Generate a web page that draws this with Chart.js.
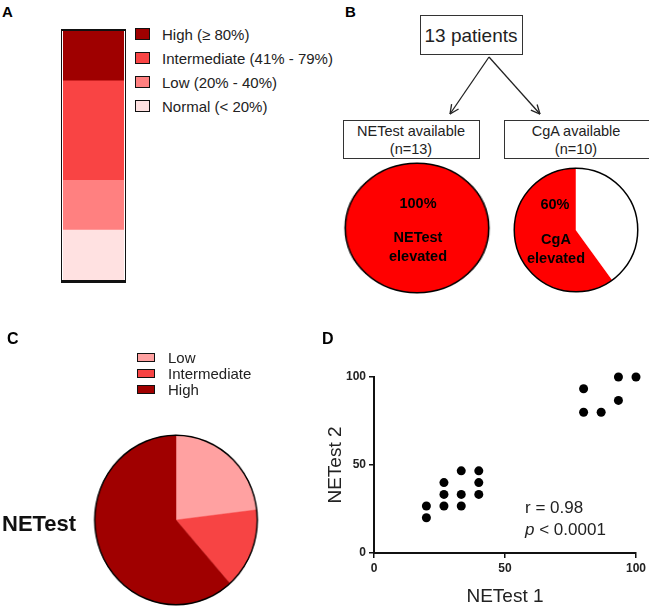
<!DOCTYPE html>
<html>
<head>
<meta charset="utf-8">
<script src="https://cdn.jsdelivr.net/npm/chart.js@4.4.1/dist/chart.umd.min.js"></script>
<style>
  html, body { margin: 0; padding: 0; background: #fff; }
  #fig { position: relative; width: 649px; height: 606px; overflow: hidden;
         font-family: "Liberation Sans", Arial, sans-serif; color: #222; }
  canvas { position: absolute; }
  .t  { position: absolute; line-height: 1; white-space: nowrap; transform: translate(-50%, -50%); }
  .tl { position: absolute; line-height: 1; white-space: nowrap; transform: translateY(-50%); }
  .panel { font-weight: bold; font-size: 16px; color: #000; }
  .box { position: absolute; box-sizing: border-box; border: 1.5px solid #333; background: #fff; }
  .pieTxt { font-weight: bold; font-size: 14.5px; color: #000; }
  .swatch { position: absolute; box-sizing: border-box; border: 1.5px solid #111; }
</style>
</head>
<body>
<div id="fig">
  <!-- A -->
  <div class="tl panel" style="left:2px; top:11px; font-size:15px;">A</div>
  <canvas id="bandBar" width="61" height="249" style="left:63px; top:31px;"></canvas>
  <div style="position:absolute; left:61px; top:29px; width:65px; height:254px; box-sizing:border-box;
              border:2px solid #111; border-left-width:1.5px; border-right-width:1.5px; border-bottom-width:3px;"></div>
  <div id="bandLegend"></div>

  <!-- B -->
  <div class="tl panel" style="left:345px; top:11px; font-size:15px;">B</div>
  <div class="box" style="left:420px; top:15px; width:103px; height:40px;"></div>
  <div class="t" style="left:471px; top:35px; font-size:19px; color:#222;">13 patients</div>
  <svg width="649" height="606" style="position:absolute; left:0; top:0;">
    <defs>
      <marker id="head" viewBox="0 0 10 10" refX="9.5" refY="5" markerUnits="userSpaceOnUse"
              markerWidth="10" markerHeight="10" orient="auto">
        <path d="M0.5,0.8 L9.5,5 L0.5,9.2" fill="none" stroke="#222" stroke-width="1.3"/>
      </marker>
    </defs>
    <line x1="489" y1="57" x2="450" y2="114" stroke="#222" stroke-width="1.3" marker-end="url(#head)"/>
    <line x1="489" y1="57" x2="540" y2="114" stroke="#222" stroke-width="1.3" marker-end="url(#head)"/>
  </svg>
  <div class="box" style="left:343px; top:120px; width:137px; height:39px;"></div>
  <div class="t" style="left:411px; top:131px; font-size:14.5px;">NETest available</div>
  <div class="t" style="left:411px; top:149px; font-size:14.5px;">(n=13)</div>
  <div class="box" style="left:504px; top:120px; width:145px; height:39px; border-right:none;"></div>
  <div class="t" style="left:576px; top:131px; font-size:14.5px;">CgA available</div>
  <div class="t" style="left:576px; top:149px; font-size:14.5px;">(n=10)</div>

  <canvas id="pieNetest" width="134" height="134" style="left:350px; top:161px; transform:scaleX(1.108);"></canvas>
  <div class="t pieTxt" style="left:418px; top:203px;">100%</div>
  <div class="t pieTxt" style="left:418px; top:237px;">NETest</div>
  <div class="t pieTxt" style="left:418px; top:256px;">elevated</div>

  <canvas id="pieCga" width="128" height="128" style="left:512px; top:166px;"></canvas>
  <div class="t pieTxt" style="left:555px; top:204px;">60%</div>
  <div class="t pieTxt" style="left:556px; top:239px;">CgA</div>
  <div class="t pieTxt" style="left:556px; top:258px;">elevated</div>

  <!-- C -->
  <div class="tl panel" style="left:7px; top:339px;">C</div>
  <div id="levelLegend"></div>
  <div class="tl" style="left:2px; top:524px; font-size:22px; font-weight:bold; color:#111;">NETest</div>
  <canvas id="pieLevels" width="174" height="174" style="left:89px; top:433px; transform:scaleX(0.959);"></canvas>

  <!-- D -->
  <div class="tl panel" style="left:322px; top:339px;">D</div>
  <canvas id="scatter" width="324" height="246" style="left:325px; top:360px;"></canvas>
  <div class="tl" style="left:525px; top:507px; font-size:17px;">r = 0.98</div>
  <div class="tl" style="left:525px; top:529px; font-size:17px;"><i>p</i> &lt; 0.0001</div>
</div>

<script>
// A: NETest score bands, bottom to top
const bandNames = ['Normal (< 20%)', 'Low (20% - 40%)', 'Intermediate (41% - 79%)', 'High (≥ 80%)'];
const bandSpans = [20, 20, 40, 20];
const bandColors = ['#ffe1e1', '#ff8080', '#f94444', '#9f0000'];

// B: patients with elevated marker
const elevGroups = ['Elevated', 'Not elevated'];
const netestElev = [13, 0];
const cgaElev = [6, 4];
const elevColors = ['#ff0000', '#ffffff'];

// C: NETest level split
const levelNames = ['Low', 'Intermediate', 'High'];
const levelCounts = [3, 2, 8];
const levelColors = ['#ffa1a1', '#f74444', '#a00000'];

// D: NETest 1 vs NETest 2
const netest1 = [20, 20, 26.7, 26.7, 26.7, 33.3, 33.3, 33.3, 40, 40, 40, 80, 80, 86.7, 93.3, 93.3, 100];
const netest2 = [26.7, 20, 40, 33.3, 26.7, 46.7, 33.3, 26.7, 46.7, 40, 33.3, 93.3, 80, 80, 100, 86.7, 100];

const FONT = '"Liberation Sans", Arial, sans-serif';
Chart.defaults.font.family = FONT;
Chart.defaults.color = '#222';

const noPlugins = { legend: { display: false }, tooltip: { enabled: false } };

// html legends
function legend(el, names, colors, x0, y0, step, bw, bh, textX) {
  let html = '';
  names.forEach((n, i) => {
    const cy = y0 + i * step;
    html += `<div class="swatch" style="left:${x0}px; top:${cy - bh / 2}px; width:${bw}px; height:${bh}px; background:${colors[i]};"></div>`;
    html += `<div class="tl" style="left:${textX}px; top:${cy}px; font-size:15px;">${n}</div>`;
  });
  document.getElementById(el).innerHTML = html;
}
legend('bandLegend', bandNames.slice().reverse(), bandColors.slice().reverse(), 135, 34, 24, 15, 12, 162);
legend('levelLegend', levelNames, levelColors, 137, 357, 16, 18, 9, 168);

// panel A bar
new Chart(document.getElementById('bandBar'), {
  type: 'bar',
  data: {
    labels: ['NETest'],
    datasets: bandNames.map((n, i) => ({
      label: n, data: [bandSpans[i]], backgroundColor: bandColors[i],
      borderWidth: 0, barPercentage: 1, categoryPercentage: 1
    }))
  },
  options: {
    responsive: false, animation: false,
    layout: { padding: 0 },
    scales: {
      x: { stacked: true, display: false },
      y: { stacked: true, display: false, min: 0, max: 100 }
    },
    plugins: noPlugins
  }
});

// black outline round each pie
const ring = {
  id: 'ring',
  afterDatasetsDraw(chart) {
    const arc = chart.getDatasetMeta(0).data[0];
    const ctx = chart.ctx;
    ctx.save();
    ctx.beginPath();
    ctx.arc(arc.x, arc.y, arc.outerRadius, 0, Math.PI * 2);
    ctx.lineWidth = 1.5;
    ctx.strokeStyle = '#000';
    ctx.stroke();
    ctx.restore();
  }
};

function pie(id, labels, counts, colors, rotation) {
  new Chart(document.getElementById(id), {
    type: 'pie',
    data: { labels, datasets: [{ data: counts, backgroundColor: colors, borderColor: colors, borderWidth: 0.5 }] },
    options: {
      responsive: false, animation: false, rotation,
      layout: { padding: 2 },
      plugins: noPlugins
    },
    plugins: [ring]
  });
}

pie('pieNetest', elevGroups, netestElev, elevColors, 0);
// elevated slice ends at 12 o'clock
pie('pieCga', elevGroups, cgaElev, elevColors, 360 * cgaElev[1] / (cgaElev[0] + cgaElev[1]));
pie('pieLevels', levelNames, levelCounts, levelColors, 0);

// panel D scatter
function axis(title, fit) {
  return {
    min: 0, max: 100,
    afterFit: fit,
    ticks: { stepSize: 50, color: '#222', font: { size: 12, weight: 'bold' }, padding: 3, maxRotation: 0 },
    grid: { drawOnChartArea: false, color: '#111', lineWidth: 1.5, tickLength: 5 },
    border: { color: '#111', width: 2 },
    title: { display: true, text: title, color: '#222', font: { size: 19, lineHeight: 1 }, padding: { top: 1, bottom: 0 } }
  };
}

new Chart(document.getElementById('scatter'), {
  type: 'scatter',
  data: {
    datasets: [{
      data: netest1.map((x, i) => ({ x, y: netest2[i] })),
      backgroundColor: '#000', pointRadius: 4.5, pointBorderWidth: 0, clip: false
    }]
  },
  options: {
    responsive: false, animation: false,
    layout: { padding: { top: 17, right: 12, left: 0, bottom: 0 } },
    scales: {
      x: axis('NETest 1', s => { s.height = 53; }),
      y: axis('NETest 2', s => { s.width = 49; })
    },
    plugins: noPlugins
  }
});
</script>
</body>
</html>
